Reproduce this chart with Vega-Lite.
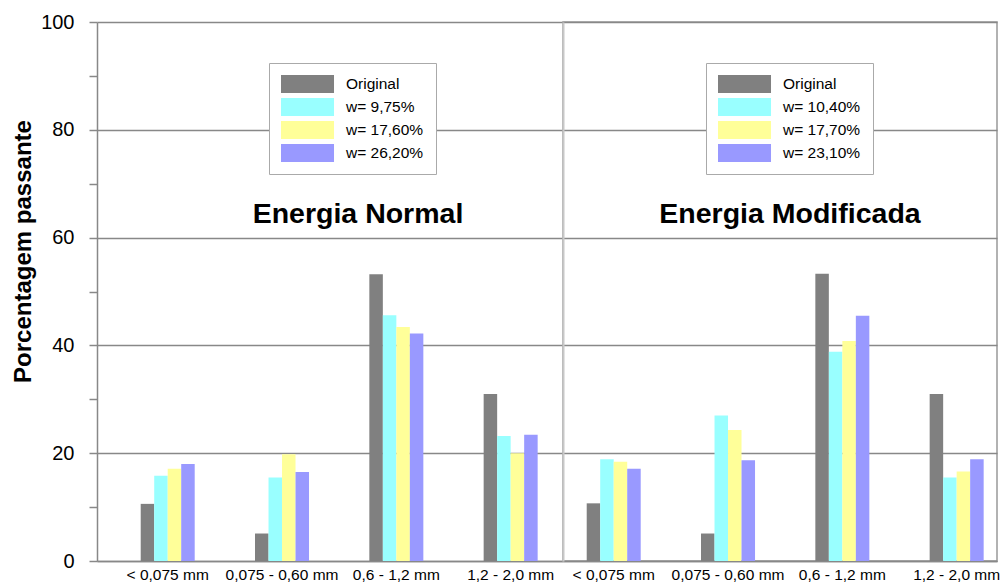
{
  "$schema": "https://vega.github.io/schema/vega-lite/v6.json",
  "background": "white",
  "padding": {"left": 11, "top": 12, "right": 0, "bottom": 0},
  "config": {
    "font": "Liberation Sans",
    "view": {"stroke": null},
    "axis": {"labelFont": "Liberation Sans", "titleFont": "Liberation Sans"},
    "legend": {"labelFont": "Liberation Sans"}
  },
  "data": {
    "values": [
      {"panel": "Normal", "size": "< 0,075 mm", "series": "Original", "value": 10.6},
      {"panel": "Normal", "size": "< 0,075 mm", "series": "w= 9,75%", "value": 15.8},
      {"panel": "Normal", "size": "< 0,075 mm", "series": "w= 17,60%", "value": 17.1},
      {"panel": "Normal", "size": "< 0,075 mm", "series": "w= 26,20%", "value": 18.0},
      {"panel": "Normal", "size": "0,075 - 0,60 mm", "series": "Original", "value": 5.1},
      {"panel": "Normal", "size": "0,075 - 0,60 mm", "series": "w= 9,75%", "value": 15.5},
      {"panel": "Normal", "size": "0,075 - 0,60 mm", "series": "w= 17,60%", "value": 19.8},
      {"panel": "Normal", "size": "0,075 - 0,60 mm", "series": "w= 26,20%", "value": 16.5},
      {"panel": "Normal", "size": "0,6 - 1,2 mm", "series": "Original", "value": 53.2},
      {"panel": "Normal", "size": "0,6 - 1,2 mm", "series": "w= 9,75%", "value": 45.6},
      {"panel": "Normal", "size": "0,6 - 1,2 mm", "series": "w= 17,60%", "value": 43.4},
      {"panel": "Normal", "size": "0,6 - 1,2 mm", "series": "w= 26,20%", "value": 42.2},
      {"panel": "Normal", "size": "1,2 - 2,0 mm", "series": "Original", "value": 31.0},
      {"panel": "Normal", "size": "1,2 - 2,0 mm", "series": "w= 9,75%", "value": 23.2},
      {"panel": "Normal", "size": "1,2 - 2,0 mm", "series": "w= 17,60%", "value": 20.0},
      {"panel": "Normal", "size": "1,2 - 2,0 mm", "series": "w= 26,20%", "value": 23.4},
      {"panel": "Modificada", "size": "< 0,075 mm", "series": "Original", "value": 10.7},
      {"panel": "Modificada", "size": "< 0,075 mm", "series": "w= 10,40%", "value": 18.9},
      {"panel": "Modificada", "size": "< 0,075 mm", "series": "w= 17,70%", "value": 18.4},
      {"panel": "Modificada", "size": "< 0,075 mm", "series": "w= 23,10%", "value": 17.1},
      {"panel": "Modificada", "size": "0,075 - 0,60 mm", "series": "Original", "value": 5.1},
      {"panel": "Modificada", "size": "0,075 - 0,60 mm", "series": "w= 10,40%", "value": 27.0},
      {"panel": "Modificada", "size": "0,075 - 0,60 mm", "series": "w= 17,70%", "value": 24.3},
      {"panel": "Modificada", "size": "0,075 - 0,60 mm", "series": "w= 23,10%", "value": 18.7},
      {"panel": "Modificada", "size": "0,6 - 1,2 mm", "series": "Original", "value": 53.3},
      {"panel": "Modificada", "size": "0,6 - 1,2 mm", "series": "w= 10,40%", "value": 38.8},
      {"panel": "Modificada", "size": "0,6 - 1,2 mm", "series": "w= 17,70%", "value": 40.8},
      {"panel": "Modificada", "size": "0,6 - 1,2 mm", "series": "w= 23,10%", "value": 45.5},
      {"panel": "Modificada", "size": "1,2 - 2,0 mm", "series": "Original", "value": 31.0},
      {"panel": "Modificada", "size": "1,2 - 2,0 mm", "series": "w= 10,40%", "value": 15.5},
      {"panel": "Modificada", "size": "1,2 - 2,0 mm", "series": "w= 17,70%", "value": 16.6},
      {"panel": "Modificada", "size": "1,2 - 2,0 mm", "series": "w= 23,10%", "value": 18.9}
    ]
  },
  "spacing": 0,
  "bounds": "flush",
  "resolve": {"scale": {"color": "independent", "x": "independent", "xOffset": "independent", "y": "independent"}},
  "hconcat": [
    {
      "width": 466,
      "height": 539,
      "transform": [{"filter": "datum.panel == 'Normal'"}],
      "title": {"text": "Energia Normal", "font": "Liberation Sans", "fontSize": 28.5, "fontWeight": "bold", "color": "black", "anchor": "middle", "frame": "group", "baseline": "alphabetic", "offset": -239, "dx": 28},
      "mark": {"type": "bar"},
      "encoding": {
        "x": {
          "field": "size", "type": "nominal",
          "scale": {"domain": ["< 0,075 mm", "0,075 - 0,60 mm", "0,6 - 1,2 mm", "1,2 - 2,0 mm"], "paddingInner": 0.5276, "paddingOuter": 0.302, "align": 0.633},
          "axis": {"title": null, "ticks": false, "labelAngle": 0, "labelFontSize": 15.5, "labelColor": "black", "labelPadding": 6, "domainColor": "#888", "domainWidth": 1.5}
        },
        "xOffset": {
          "field": "series", "type": "nominal",
          "scale": {"domain": ["Original", "w= 9,75%", "w= 17,60%", "w= 26,20%"], "paddingInner": 0, "paddingOuter": 0}
        },
        "y": {
          "field": "value", "type": "quantitative",
          "scale": {"domain": [0, 100], "nice": false},
          "axis": {
            "title": "Porcentagem passante", "titleFontSize": 24, "titleFontWeight": "bold", "titleColor": "black", "titlePadding": 5, "titleY": 229,
            "values": [0, 10, 20, 30, 40, 50, 60, 70, 80, 90, 100],
            "labelExpr": "datum.value % 20 === 0 ? datum.label : ''",
            "labelFontSize": 20, "labelColor": "black", "labelPadding": 15,
            "tickSize": 8, "tickColor": "#888", "tickWidth": 1.5,
            "domainColor": "#888", "domainWidth": 1.5,
            "gridColor": "#888", "gridWidth": 1.5,
            "gridOpacity": {"condition": {"test": "datum.value % 20 === 0", "value": 1}, "value": 0}
          }
        },
        "color": {
          "field": "series", "type": "nominal",
          "scale": {"domain": ["Original", "w= 9,75%", "w= 17,60%", "w= 26,20%"], "range": ["#808080", "#99ffff", "#ffff99", "#9999ff"]},
          "legend": {"title": null, "orient": "none", "legendX": 172, "legendY": 41, "fillColor": "white", "strokeColor": "#aaa", "padding": 12, "symbolType": "M-1,-1H4.89V1H-1Z", "symbolSize": 324, "symbolStrokeWidth": 0, "symbolOpacity": 1, "labelFontSize": 15.5, "labelColor": "black", "labelOffset": 47, "rowPadding": 5}
        }
      }
    },
    {
      "width": 434,
      "height": 539,
      "view": {"stroke": "#999", "strokeWidth": 1.5},
      "transform": [{"filter": "datum.panel == 'Modificada'"}],
      "title": {"text": "Energia Modificada", "font": "Liberation Sans", "fontSize": 28.5, "fontWeight": "bold", "color": "black", "anchor": "middle", "frame": "group", "baseline": "alphabetic", "offset": -229, "dx": 10},
      "mark": {"type": "bar"},
      "encoding": {
        "x": {
          "field": "size", "type": "nominal",
          "scale": {"domain": ["< 0,075 mm", "0,075 - 0,60 mm", "0,6 - 1,2 mm", "1,2 - 2,0 mm"], "paddingInner": 0.5276, "paddingOuter": 0.162, "align": 0.64},
          "axis": {"title": null, "ticks": false, "labelAngle": 0, "labelFontSize": 15.5, "labelColor": "black", "labelPadding": 6, "domainColor": "#888", "domainWidth": 1.5}
        },
        "xOffset": {
          "field": "series", "type": "nominal",
          "scale": {"domain": ["Original", "w= 10,40%", "w= 17,70%", "w= 23,10%"], "paddingInner": 0, "paddingOuter": 0}
        },
        "y": {
          "field": "value", "type": "quantitative",
          "scale": {"domain": [0, 100], "nice": false},
          "axis": {"title": null, "labels": false, "ticks": false, "values": [0, 20, 40, 60, 80, 100], "domainColor": "#c8c8c8", "domainWidth": 2, "gridColor": "#888", "gridWidth": 1.5}
        },
        "color": {
          "field": "series", "type": "nominal",
          "scale": {"domain": ["Original", "w= 10,40%", "w= 17,70%", "w= 23,10%"], "range": ["#808080", "#99ffff", "#ffff99", "#9999ff"]},
          "legend": {"title": null, "orient": "none", "legendX": 143, "legendY": 41, "fillColor": "white", "strokeColor": "#aaa", "padding": 12, "symbolType": "M-1,-1H4.89V1H-1Z", "symbolSize": 324, "symbolStrokeWidth": 0, "symbolOpacity": 1, "labelFontSize": 15.5, "labelColor": "black", "labelOffset": 47, "rowPadding": 5}
        }
      }
    }
  ]
}
